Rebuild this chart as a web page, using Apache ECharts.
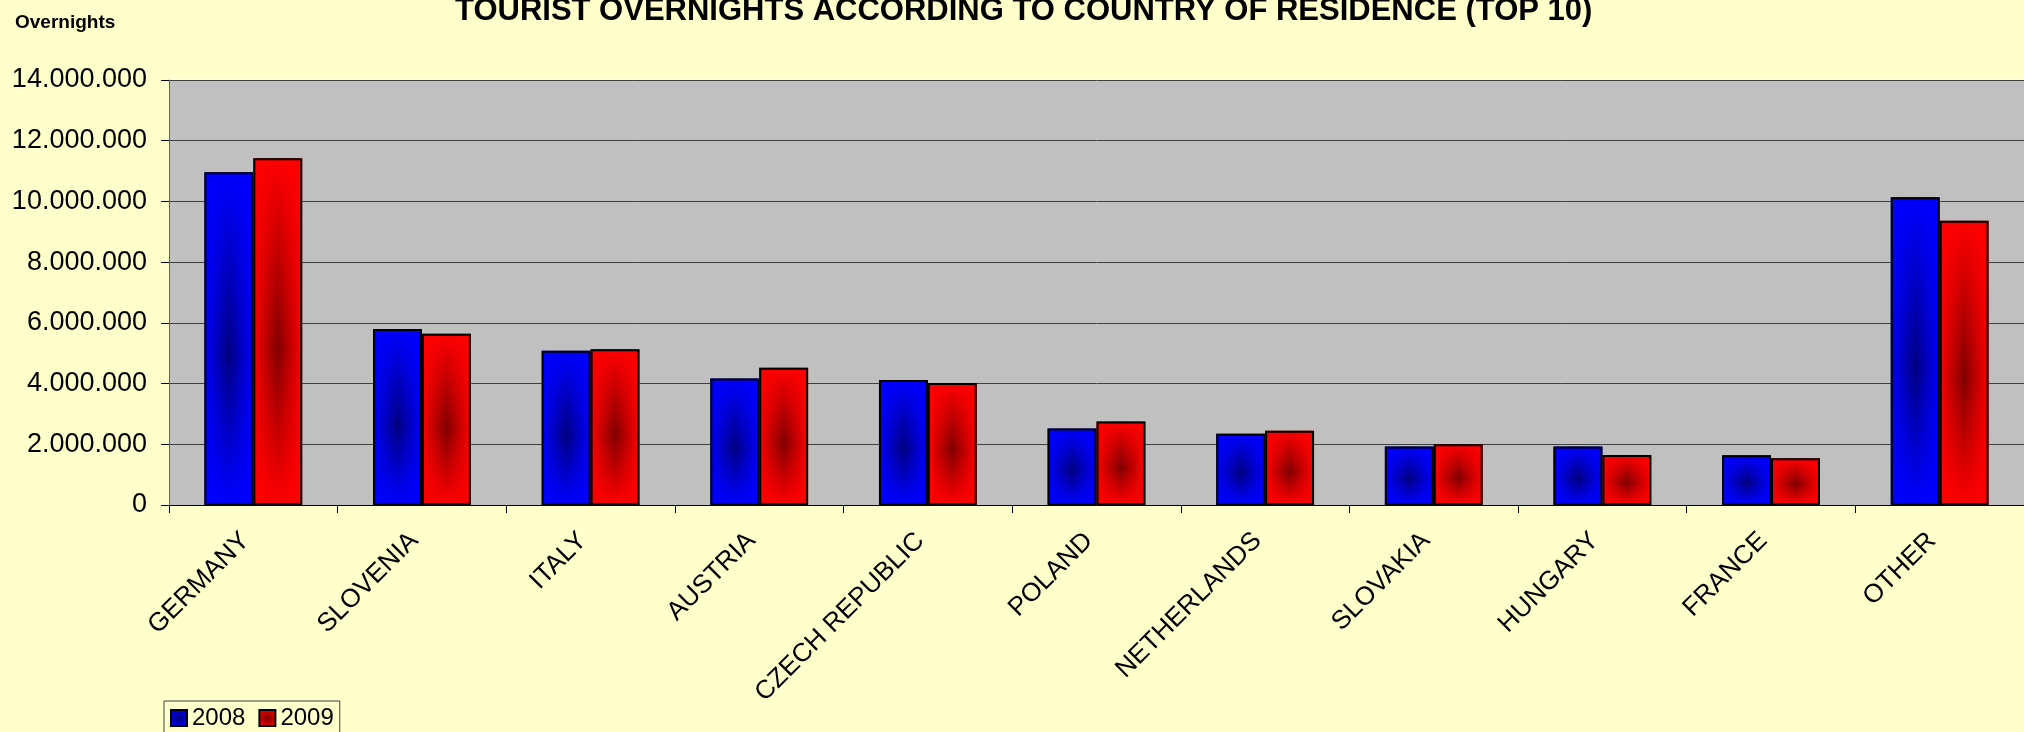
<!DOCTYPE html>
<html>
<head>
<meta charset="utf-8">
<script src="https://cdn.jsdelivr.net/npm/echarts@6/dist/echarts.min.js"></script>
<style>
html,body{margin:0;padding:0;background:#FFFFCC;}
#chart{width:2024px;height:732px;}
</style>
</head>
<body>
<div id="chart"></div>
<script>
const categories = ['GERMANY','SLOVENIA','ITALY','AUSTRIA','CZECH REPUBLIC','POLAND','NETHERLANDS','SLOVAKIA','HUNGARY','FRANCE','OTHER'];
const values2008 = [10960000, 5800000, 5080000, 4170000, 4120000, 2520000, 2350000, 1930000, 1930000, 1640000, 10140000];
const values2009 = [11420000, 5640000, 5130000, 4520000, 4020000, 2750000, 2450000, 2000000, 1650000, 1540000, 9360000];
const seriesNames = ['2008', '2009'];
const yMin = 0;
const yMax = 14000000;
const yInterval = 2000000;
const chartTitle = 'TOURIST OVERNIGHTS ACCORDING TO COUNTRY OF RESIDENCE (TOP 10)';
const yAxisTitle = 'Overnights';

const FONT = "'Liberation Sans', Arial, sans-serif";
const palette = {
  '2008': {bright: '#0000FF', dark: '#000080', clear: 'rgba(0,0,255,0)'},
  '2009': {bright: '#FF0000', dark: '#800000', clear: 'rgba(255,0,0,0)'}
};
function fmt(v){ return String(v).replace(/\B(?=(\d{3})+(?!\d))/g, '.'); }

function baseSeries(name, data){
  const p = palette[name];
  return {
    name: name, type: 'bar', xAxisIndex: 0, data: data, z: 2,
    barGap: '0%', barCategoryGap: '42%',
    itemStyle: {
      color: {type:'linear', x:0, y:0, x2:1, y2:0, colorStops:[
        {offset:0, color:p.bright},{offset:0.5, color:p.dark},{offset:1, color:p.bright}]}
    },
    emphasis: {disabled: true}
  };
}
function shadeSeries(name, data){
  const p = palette[name];
  return {
    name: name + ' ', type: 'bar', xAxisIndex: 1, data: data, z: 3, silent: true,
    barGap: '0%', barCategoryGap: '42%',
    itemStyle: {
      color: {type:'linear', x:0, y:0, x2:0, y2:1, colorStops:[
        {offset:0, color:p.bright},{offset:0.55, color:p.clear},{offset:1, color:p.bright}]},
      borderColor: '#000', borderWidth: 2
    },
    emphasis: {disabled: true}
  };
}

const chart = echarts.init(document.getElementById('chart'), null, {renderer:'canvas'});
chart.setOption({
  backgroundColor: '#FFFFCC',
  animation: false,
  title: [
    {text: chartTitle, left: 455, top: -4, padding: 0,
     textStyle: {fontFamily: FONT, fontSize: 31, fontWeight: 'bold', color: '#000'}},
    {text: yAxisTitle, left: 15, top: 13, padding: 0,
     textStyle: {fontFamily: FONT, fontSize: 19, fontWeight: 'bold', color: '#000'}}
  ],
  legend: {
    left: 164, top: 701, padding: [5, 6], itemGap: 13, itemWidth: 16, itemHeight: 16,
    icon: 'rect', borderColor: '#404040', borderWidth: 1, borderRadius: 0, backgroundColor: '#FFFFCC',
    textStyle: {fontFamily: FONT, fontSize: 24, color: '#000'},
    data: seriesNames.map(n => ({name: n, itemStyle: {
      color: {type:'radial', x:0.5, y:0.5, r:0.6, colorStops:[{offset:0, color:palette[n].dark},{offset:1, color:palette[n].bright}]},
      borderColor: '#000', borderWidth: 2}}))
  },
  grid: {left: 169, right: 0, top: 80, bottom: 227, show: true, backgroundColor: '#C0C0C0', borderWidth: 0},
  xAxis: [
    {type: 'category', data: categories, position: 'bottom',
     axisLine: {show: true, lineStyle: {color: '#000', width: 1}},
     axisTick: {show: true, length: 8, lineStyle: {color: '#000'}},
     axisLabel: {rotate: 45, margin: 24, padding: [0, 11, 0, 0], fontFamily: FONT, fontSize: 26, color: '#000', interval: 0}},
    {type: 'category', data: categories, show: false}
  ],
  yAxis: {
    type: 'value', min: yMin, max: yMax, interval: yInterval,
    axisLine: {show: true, lineStyle: {color: '#606060', width: 1}},
    axisTick: {show: true, length: 8, lineStyle: {color: '#000'}},
    axisLabel: {margin: 22, fontFamily: FONT, fontSize: 27, color: '#000', formatter: fmt},
    splitLine: {show: true, lineStyle: {color: '#404040', width: 1}}
  },
  series: [
    baseSeries('2008', values2008),
    baseSeries('2009', values2009),
    shadeSeries('2008', values2008),
    shadeSeries('2009', values2009)
  ]
});
</script>
</body>
</html>
